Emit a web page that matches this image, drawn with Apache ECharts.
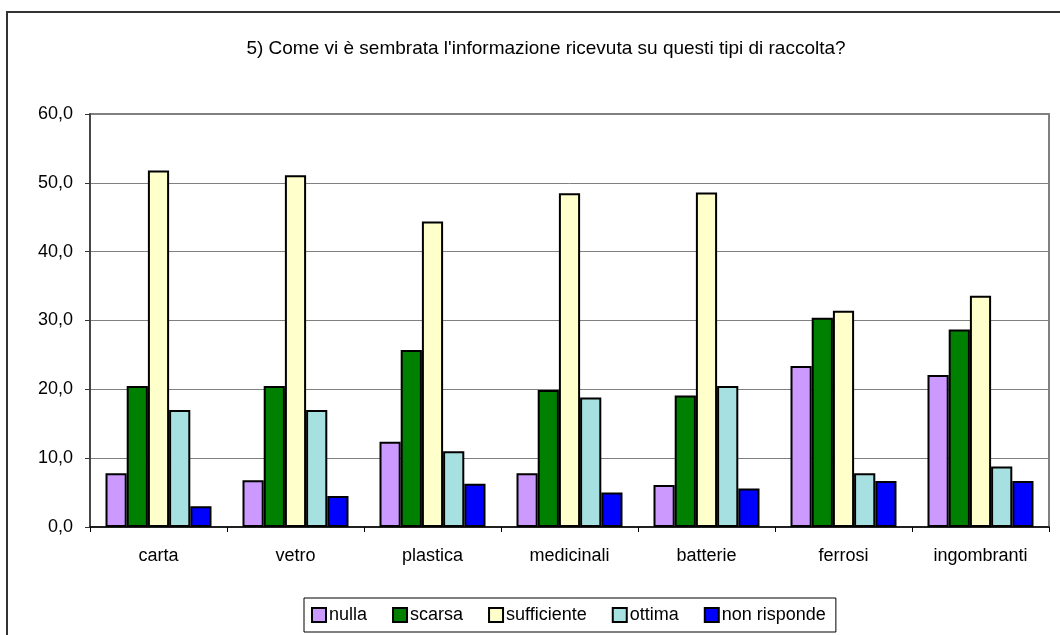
<!DOCTYPE html>
<html>
<head>
<meta charset="utf-8">
<script src="https://cdn.jsdelivr.net/npm/echarts@6/dist/echarts.min.js"></script>
<style>
html,body{margin:0;padding:0;background:#fff;}
#chart{width:1060px;height:635px;}
</style>
</head>
<body>
<div id="chart"></div>
<script>
const titleText = "5) Come vi è sembrata l'informazione ricevuta su questi tipi di raccolta?";
const categories = ['carta', 'vetro', 'plastica', 'medicinali', 'batterie', 'ferrosi', 'ingombranti'];
const seriesNames = ['nulla', 'scarsa', 'sufficiente', 'ottima', 'non risponde'];
const nulla       = [7.8, 6.8, 12.4, 7.8, 6.1, 23.4, 22.1];
const scarsa      = [20.5, 20.5, 25.7, 19.9, 19.1, 30.4, 28.7];
const sufficiente = [51.8, 51.1, 44.4, 48.5, 48.6, 31.4, 33.6];
const ottima      = [17.0, 17.0, 11.0, 18.8, 20.5, 7.8, 8.8];
const nonRisponde = [3.0, 4.5, 6.3, 5.0, 5.6, 6.7, 6.7];
const yTicks = [0, 10, 20, 30, 40, 50, 60];

const colors = ['#CC99FF', '#008000', '#FFFFCC', '#A6E0E0', '#0000FF'];
const values = [nulla, scarsa, sufficiente, ottima, nonRisponde];
const FONT = '"Liberation Sans", Arial, sans-serif';

const chart = echarts.init(document.getElementById('chart'), null, {renderer: 'canvas'});
chart.setOption({
  animation: false,
  backgroundColor: '#ffffff',
  textStyle: {fontFamily: FONT},
  graphic: [{
    type: 'rect', silent: true, z: -10,
    shape: {x: 7, y: 12, width: 1100, height: 700},
    style: {fill: 'none', stroke: '#333333', lineWidth: 2}
  }],
  title: {
    text: titleText,
    left: 541, top: 34, textAlign: 'center',
    textStyle: {fontFamily: FONT, fontSize: 19, fontWeight: 'normal', color: '#000'}
  },
  legend: {
    data: seriesNames,
    left: 304, top: 598,
    orient: 'horizontal',
    padding: [8, 10, 8, 7],
    itemGap: 25,
    itemWidth: 14, itemHeight: 14,
    borderColor: '#000', borderWidth: 1,
    icon: 'rect',
    textStyle: {fontFamily: FONT, fontSize: 18, color: '#000', padding: [0, 0, 0, -2]},
    itemStyle: {borderColor: '#000', borderWidth: 2}
  },
  grid: {
    left: 90, right: 11, top: 114, bottom: 108,
    show: true, borderColor: '#808080', borderWidth: 2,
    containLabel: false
  },
  xAxis: {
    type: 'category',
    data: categories,
    axisLine: {show: true, lineStyle: {color: '#000', width: 1.5}},
    axisTick: {show: true, length: 5, lineStyle: {color: '#000'}},
    axisLabel: {fontFamily: FONT, fontSize: 18, color: '#000', margin: 20},
    splitLine: {show: false}
  },
  yAxis: {
    type: 'value',
    min: yTicks[0], max: yTicks[yTicks.length - 1], interval: 10,
    axisLine: {show: true, lineStyle: {color: '#333', width: 1.5}},
    axisTick: {show: true, length: 5, lineStyle: {color: '#333'}},
    axisLabel: {
      fontFamily: FONT, fontSize: 18, color: '#000', margin: 17,
      formatter: v => v.toFixed(1).replace('.', ',')
    },
    splitLine: {show: true, lineStyle: {color: '#808080', width: 1}}
  },
  series: seriesNames.map((name, i) => ({
    name: name,
    type: 'bar',
    data: values[i],
    barWidth: 21.2,
    barGap: '0%',
    barCategoryGap: '22.6%',
    itemStyle: {color: colors[i], borderColor: '#000', borderWidth: 2}
  }))
});
</script>
</body>
</html>
